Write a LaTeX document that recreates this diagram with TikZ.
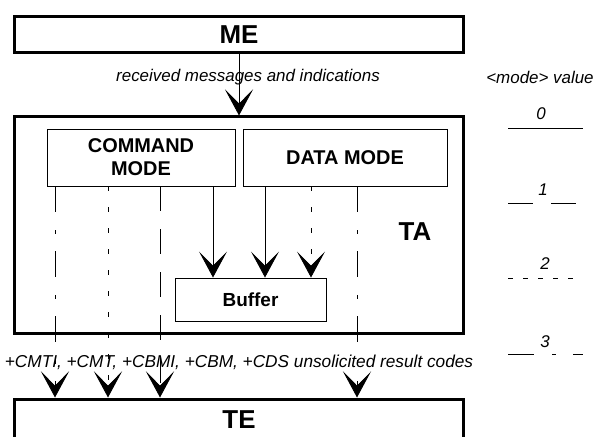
\documentclass[tikz,border=0pt]{standalone}
\usepackage{fontspec}
\setmainfont{Liberation Sans}
\usetikzlibrary{arrows.meta}
\begin{document}
\begin{tikzpicture}[x=1bp,y=-1bp,
  bigbox/.style={draw, line width=3bp, inner sep=0pt, font=\fontsize{26}{29}\selectfont\bfseries},
  smallbox/.style={draw, line width=0.9bp, inner sep=0pt, align=center, font=\fontsize{20}{23}\selectfont\bfseries},
  bigtext/.style={inner sep=0pt, font=\fontsize{26}{29}\selectfont\bfseries},
  lbl/.style={inner sep=0pt, font=\fontsize{17}{20}\selectfont\itshape},
  conn/.style={line width=0.9bp},
  arr/.style={-{Stealth[length=26bp,width=28bp,inset=14bp]}},
  modeA/.style={dash pattern=on 25bp off 18bp},
  modeB/.style={dash pattern=on 5bp off 16bp},
  modeBleg/.style={dash pattern=on 5bp off 10bp},
  modeC/.style={dash pattern=on 26bp off 18bp on 4bp off 17bp},
]
\path[use as bounding box] (0,0) rectangle (597,437);
\clip (0,0) rectangle (597,437);

% main boxes
\node[bigbox, minimum width=448bp, minimum height=36bp] (ME) at (239,35) {ME};
\node[bigbox, minimum width=448bp, minimum height=216bp] (TA) at (239,225) {};
\node[bigtext] (TAlbl) at (415,232) {TA};
\node[bigbox, minimum width=448bp, minimum height=42bp] (TE) at (239,420) {TE};

% inner boxes
\node[smallbox, minimum width=188bp, minimum height=57bp] (CMD) at (141,157.5) {COMMAND\\MODE};
\node[smallbox, minimum width=204bp, minimum height=57bp] (DATA) at (345,157.5) {DATA MODE};
\node[smallbox, minimum width=151bp, minimum height=43bp, font=\fontsize{19}{22}\selectfont\bfseries] (BUF) at (250.5,299.5) {Buffer};

% labels
\node[lbl] (rcv) at (248,77) {received messages and indications};
\node[lbl, font=\fontsize{17.3}{20}\selectfont\itshape] (urc) at (239,362) {+CMTI, +CMT, +CBMI, +CBM, +CDS unsolicited result codes};

% ME -> TA
\draw[conn,arr] (ME.south) -- (TA.north);

% vertical connectors
\coordinate (c55) at (55,0);
\coordinate (c108) at (108,0);
\coordinate (c160) at (160,0);
\coordinate (c213) at (213,0);
\coordinate (c265) at (265,0);
\coordinate (c311) at (311,0);
\coordinate (c357) at (357,0);
\draw[conn,modeC,arr] (CMD.south -| c55) -- (TE.north -| c55);
\draw[conn,modeB,arr] (CMD.south -| c108) -- (TE.north -| c108);
\draw[conn,modeA,arr] (CMD.south -| c160) -- (TE.north -| c160);
\draw[conn,arr] (CMD.south -| c213) -- (BUF.north -| c213);
\draw[conn,arr] (DATA.south -| c265) -- (BUF.north -| c265);
\draw[conn,modeB,arr] (DATA.south -| c311) -- (BUF.north -| c311);
\draw[conn,modeC,arr] (DATA.south -| c357) -- (TE.north -| c357);

% legend
\node[lbl] (legT) at (540,77) {<mode> value};
\node[lbl] (leg0) at (541,114) {0};
\node[lbl] (leg1) at (543,190) {1};
\node[lbl] (leg2) at (545,264) {2};
\node[lbl] (leg3) at (545,342) {3};
\draw[conn] (508,128) -- (583,128);
\draw[conn,modeA] (508,203) -- (577,203);
\draw[conn,modeBleg] (508,278) -- (583,278);
\draw[conn,modeC] (508,354) -- (583,354);
\end{tikzpicture}
\end{document}
